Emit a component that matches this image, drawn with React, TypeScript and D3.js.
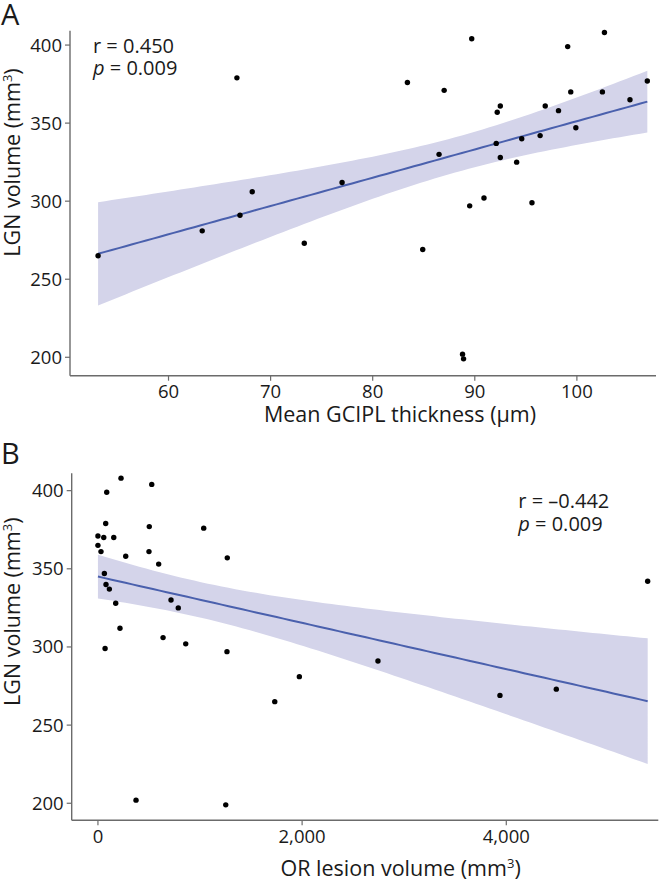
import React from "react";
import * as d3 from "d3";

// ---------- Data ----------
// Panel A: Mean GCIPL thickness (µm) vs LGN volume (mm³)
const gciplThickness = [
  53.1, 63.3, 67.0, 66.7, 68.2, 73.3, 77.0, 83.4, 84.9, 86.5, 87.0, 88.8, 88.9,
  89.5, 89.7, 90.9, 92.1, 92.2, 92.5, 92.5, 94.1, 94.6, 95.6, 96.4, 96.9, 98.2,
  99.1, 99.4, 99.9, 102.5, 102.7, 105.2, 106.9,
];
const lgnVolumeA = [
  265, 281, 291, 379, 306, 273, 312, 376, 269, 330, 371, 202, 199,
  297, 404, 302, 337, 357, 361, 328, 325, 340, 299, 342, 361, 358,
  399, 370, 347, 370, 408, 365, 377,
];

// Panel B: OR lesion volume (mm³) vs LGN volume (mm³)
const orLesionVolume = [
  226, 527, 86, 76, 503, 1036, 0, 57, 155, 0, 30, 500, 272, 1267, 595, 63, 79,
  112, 174, 716, 787, 216, 638, 860, 70, 1264, 5385, 1973, 1732, 373, 1252,
  2743, 3938, 4490,
];
const lgnVolumeB = [
  408, 404, 399, 379, 377, 376, 371, 370, 370, 365, 361, 361, 358, 357, 353,
  347, 340, 337, 328, 330, 325, 312, 306, 302, 299, 297, 342, 281, 265, 202,
  199, 291, 269, 273,
];

const yTicks = [200, 250, 300, 350, 400];
const xTicksA = [60, 70, 80, 90, 100];
const xTicksB = [0, 2000, 4000];

const statsA = ["r = 0.450", "0.009"];
const statsB = ["r = \u20130.442", "0.009"];

// ---------- Styles ----------
const FONT = "'Open Sans', 'Noto Sans', sans-serif";
const AXIS_COLOR = "#6b6b6b";
const TEXT_COLOR = "#1a1a1a";
const LINE_COLOR = "#4a60ad";
const BAND_COLOR = "#d4d4ea";
// the reference's confidence ribbon is narrower than a plain OLS 95% band
const BAND_SCALE = 0.68;

function tCrit(df: number) {
  const table: Record<number, number> = { 31: 2.0395, 32: 2.0369 };
  return table[df] ?? 1.96;
}

function fit(xs: number[], ys: number[]) {
  const n = xs.length;
  const mx = d3.mean(xs)!;
  const my = d3.mean(ys)!;
  let sxx = 0,
    sxy = 0;
  for (let i = 0; i < n; i++) {
    sxx += (xs[i] - mx) ** 2;
    sxy += (xs[i] - mx) * (ys[i] - my);
  }
  const b = sxy / sxx;
  const a = my - b * mx;
  let sse = 0;
  for (let i = 0; i < n; i++) sse += (ys[i] - (a + b * xs[i])) ** 2;
  const s = Math.sqrt(sse / (n - 2));
  const t = tCrit(n - 2) * BAND_SCALE;
  const [x0, x1] = d3.extent(xs) as [number, number];
  return d3.range(0, 81).map((i) => {
    const x = x0 + ((x1 - x0) * i) / 80;
    const yhat = a + b * x;
    const se = s * Math.sqrt(1 / n + (x - mx) ** 2 / sxx);
    return { x, y: yhat, lo: yhat - t * se, hi: yhat + t * se };
  });
}

type PanelProps = {
  letter: string;
  letterY: number;
  xs: number[];
  ys: number[];
  xDomain: [number, number];
  xRange: [number, number];
  yDomain: [number, number];
  yRange: [number, number];
  xTicks: number[];
  xFormat: (v: number) => string;
  xTitle: React.ReactNode;
  xTitleX: number;
  xTitleY: number;
  yTitleCenter: number;
  stats: string[];
  statsX: number;
  statsY: number;
};

function Panel(p: PanelProps) {
  const x = d3.scaleLinear().domain(p.xDomain).range(p.xRange);
  const y = d3.scaleLinear().domain(p.yDomain).range(p.yRange);
  const pts = fit(p.xs, p.ys);
  const area = d3
    .area<{ x: number; lo: number; hi: number }>()
    .x((d) => x(d.x))
    .y0((d) => y(d.lo))
    .y1((d) => y(d.hi));
  const line = d3
    .line<{ x: number; y: number }>()
    .x((d) => x(d.x))
    .y((d) => y(d.y));
  const left = p.xRange[0];
  const bottom = p.yRange[0];
  return (
    <g>
      <text x={1} y={p.letterY} fontSize={29} fill={TEXT_COLOR} fontFamily={FONT}>
        {p.letter}
      </text>
      <path d={area(pts)!} fill={BAND_COLOR} />
      <path d={line(pts)!} fill="none" stroke={LINE_COLOR} strokeWidth={2} />
      {p.xs.map((v, i) => (
        <circle key={i} cx={x(v)} cy={y(p.ys[i])} r={2.7} fill="#000" />
      ))}
      {/* y axis */}
      <line x1={left} x2={left} y1={p.yRange[1]} y2={bottom} stroke={AXIS_COLOR} strokeWidth={1.4} />
      {yTicks.map((t) => (
        <g key={t}>
          <line x1={left - 5} x2={left} y1={y(t)} y2={y(t)} stroke={AXIS_COLOR} strokeWidth={1.2} />
          <text
            x={left - 8}
            y={y(t) + 6.5}
            textAnchor="end"
            fontSize={18.5}
            fill={TEXT_COLOR}
            fontFamily={FONT}
          >
            {t}
          </text>
        </g>
      ))}
      {/* x axis */}
      <line x1={left} x2={p.xRange[1]} y1={bottom} y2={bottom} stroke={AXIS_COLOR} strokeWidth={1.4} />
      {p.xTicks.map((t) => (
        <g key={t}>
          <line x1={x(t)} x2={x(t)} y1={bottom} y2={bottom + 5} stroke={AXIS_COLOR} strokeWidth={1.2} />
          <text
            x={x(t)}
            y={bottom + 22.5}
            textAnchor="middle"
            fontSize={18.5}
            fill={TEXT_COLOR}
            fontFamily={FONT}
          >
            {p.xFormat(t)}
          </text>
        </g>
      ))}
      <text
        x={p.xTitleX}
        y={p.xTitleY}
        textAnchor="middle"
        fontSize={21.5}
        fill={TEXT_COLOR}
        fontFamily={FONT}
      >
        {p.xTitle}
      </text>
      <text
        transform={`translate(20,${p.yTitleCenter}) rotate(-90)`}
        textAnchor="middle"
        fontSize={21.5}
        fill={TEXT_COLOR}
        fontFamily={FONT}
      >
        LGN volume (mm<tspan fontSize={13} dy={-8}>3</tspan>
        <tspan dy={8}>)</tspan>
      </text>
      <text x={p.statsX} y={p.statsY} fontSize={20} fill={TEXT_COLOR} fontFamily={FONT}>
        {p.stats[0]}
      </text>
      <text x={p.statsX} y={p.statsY + 22.5} fontSize={20} fill={TEXT_COLOR} fontFamily={FONT}>
        <tspan fontStyle="italic">p</tspan> = {p.stats[1]}
      </text>
    </g>
  );
}

export default function App() {
  const fmtComma = d3.format(",");
  return (
    <div style={{ position: "absolute", left: 0, top: 0 }}>
      <svg width={660} height={885} style={{ display: "block", background: "#fff" }}>
        <Panel
          letter="A"
          letterY={25}
          xs={gciplThickness}
          ys={lgnVolumeA}
          xDomain={[50.35, 107.75]}
          xRange={[70, 656]}
          yDomain={[188.2, 409.2]}
          yRange={[375.7, 30.7]}
          xTicks={xTicksA}
          xFormat={(v) => String(v)}
          xTitle={"Mean GCIPL thickness (\u00b5m)"}
          xTitleX={400}
          xTitleY={422}
          yTitleCenter={162.5}
          stats={statsA}
          statsX={93}
          statsY={52.7}
        />
        <Panel
          letter="B"
          letterY={464}
          xs={orLesionVolume}
          ys={lgnVolumeB}
          xDomain={[-257, 5489]}
          xRange={[71.7, 658.3]}
          yDomain={[189.1, 411.1]}
          yRange={[820.3, 473.3]}
          xTicks={xTicksB}
          xFormat={(v) => fmtComma(v)}
          xTitle={
            <>
              OR lesion volume (mm<tspan fontSize={13} dy={-8}>3</tspan>
              <tspan dy={8}>)</tspan>
            </>
          }
          xTitleX={400.6}
          xTitleY={876}
          yTitleCenter={611.7}
          stats={statsB}
          statsX={518.3}
          statsY={508.3}
        />
      </svg>
    </div>
  );
}
